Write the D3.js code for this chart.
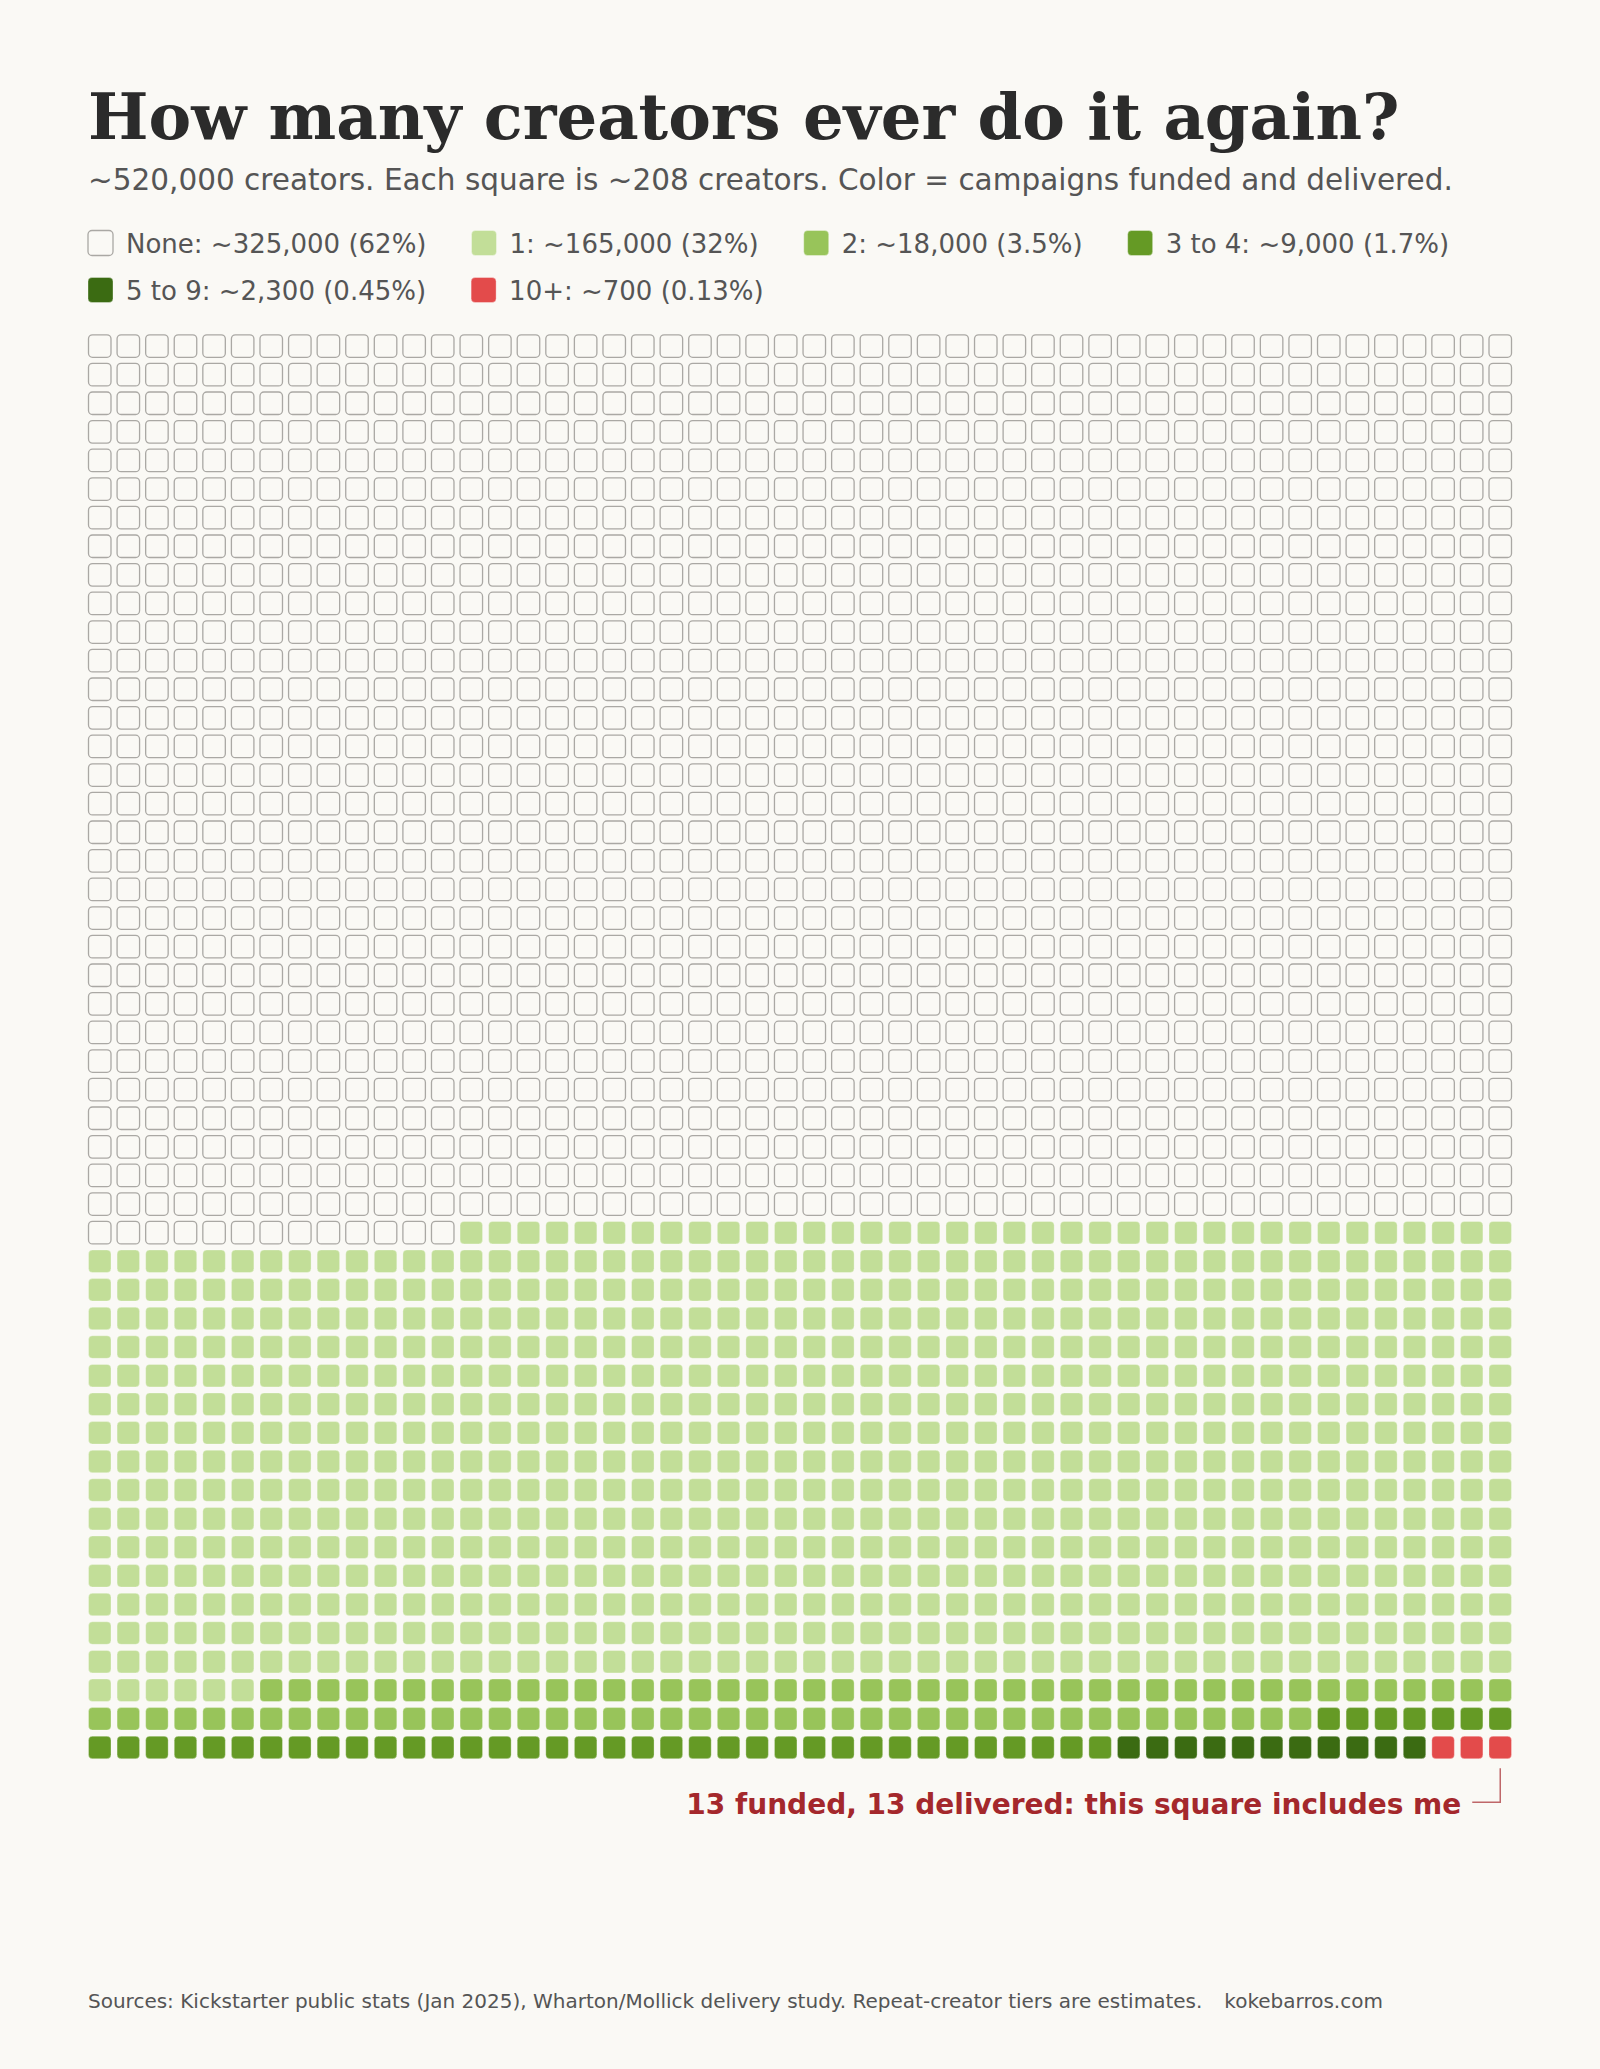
<!DOCTYPE html>
<html><head><meta charset="utf-8">
<script src="https://cdn.jsdelivr.net/npm/d3@7"></script>
<style>html,body{margin:0;padding:0;background:#faf9f5;}svg{display:block;}</style>
</head><body>
<script>
const categories = ["None", "1", "2", "3 to 4", "5 to 9", "10+"];
const creatorLabels = ["~325,000", "~165,000", "~18,000", "~9,000", "~2,300", "~700"];
const shareLabels = ["62%", "32%", "3.5%", "1.7%", "0.45%", "0.13%"];
const squareCounts = [1563, 793, 87, 43, 11, 3];
const colors = ["none", "#c2de98", "#98c45a", "#659a25", "#3b6b12", "#e34b4b"];
const gridCols = 50, gridRows = 50;

const W = 1600, H = 2069;
const svg = d3.select("body").append("svg").attr("width", W).attr("height", H);
svg.append("rect").attr("width", W).attr("height", H).attr("fill", "#faf9f5");

const sans = "'DejaVu Sans', sans-serif";
svg.append("text").attr("x", 88).attr("y", 139)
  .attr("font-family", "'DejaVu Serif', serif").attr("font-weight", "bold")
  .attr("font-size", 64).attr("fill", "#2b2b2b")
  .text("How many creators ever do it again?");
svg.append("text").attr("x", 88).attr("y", 190)
  .attr("font-family", sans).attr("font-size", 29.5).attr("fill", "#555")
  .text("~520,000 creators. Each square is ~208 creators. Color = campaigns funded and delivered.");

// legend (flow layout)
let lx = 88, ly = 243;
categories.forEach((c, i) => {
  const g = svg.append("g");
  g.append("rect").attr("x", lx).attr("y", ly - 12.5).attr("width", 25).attr("height", 25).attr("rx", 4)
    .attr("fill", colors[i] === "none" ? "#faf9f5" : colors[i])
    .attr("stroke", colors[i] === "none" ? "#aaa8a4" : "rgba(255,255,255,0.35)")
    .attr("stroke-width", colors[i] === "none" ? 1.3 : 1);
  const t = g.append("text").attr("x", lx + 38).attr("y", ly + 9.5)
    .attr("font-family", sans).attr("font-size", 26).attr("fill", "#555")
    .text(`${c}: ${creatorLabels[i]} (${shareLabels[i]})`);
  const w = t.node().getComputedTextLength();
  lx = lx + 38 + w + 45;
  if (lx + 350 > 1512) { lx = 88; ly += 47; }
});

// waffle cells
const cells = [];
categories.forEach((c, i) => { for (let k = 0; k < squareCounts[i]; k++) cells.push(i); });
const xs = d3.scaleBand().domain(d3.range(gridCols)).range([88, 1512]).paddingInner(0.178).paddingOuter(0);
const ys = d3.scaleBand().domain(d3.range(gridRows)).range([334.3, 334.3 + 1424.9]).paddingInner(0.178).paddingOuter(0);
svg.append("g").selectAll("rect").data(cells).join("rect")
  .attr("x", (d, i) => xs(i % gridCols) + 0.5)
  .attr("y", (d, i) => ys(Math.floor(i / gridCols)) + 0.5)
  .attr("width", xs.bandwidth() - 1).attr("height", ys.bandwidth() - 1)
  .attr("rx", 4)
  .attr("fill", d => colors[d] === "none" ? "#faf9f5" : colors[d])
  .attr("stroke", d => colors[d] === "none" ? "#aaa8a4" : "rgba(255,255,255,0.3)")
  .attr("stroke-width", d => colors[d] === "none" ? 1.3 : 1);

// annotation
const last = cells.length - 1;
const cx = xs(last % gridCols) + xs.bandwidth() / 2;
const cy = ys(Math.floor(last / gridCols)) + ys.bandwidth();
svg.append("path")
  .attr("d", `M${cx},${cy + 9}V${cy + 43}H${cx - 28}`)
  .attr("fill", "none").attr("stroke", "#a52a2e").attr("stroke-opacity", 0.7).attr("stroke-width", 1.5);
svg.append("text").attr("x", cx - 39).attr("y", 1814).attr("text-anchor", "end")
  .attr("font-family", sans).attr("font-weight", "bold").attr("font-size", 28).attr("fill", "#a4282c")
  .text("13 funded, 13 delivered: this square includes me");

svg.append("text").attr("x", 88).attr("y", 2008)
  .attr("font-family", sans).attr("font-size", 20).attr("fill", "#555")
  .text("Sources: Kickstarter public stats (Jan 2025), Wharton/Mollick delivery study. Repeat-creator tiers are estimates.")
  .append("tspan").attr("dx", 22).text("kokebarros.com");
</script>
</body></html>
